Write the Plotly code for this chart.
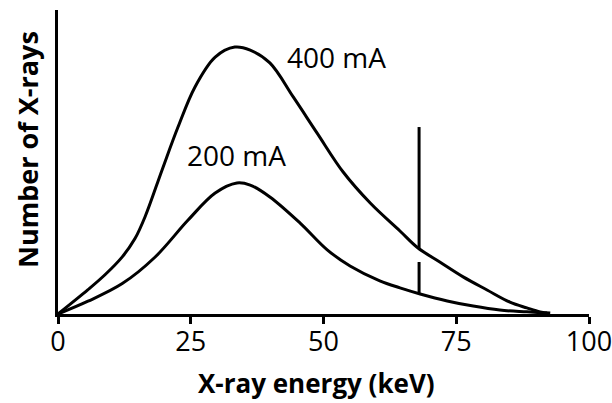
import plotly.graph_objects as go

# X-ray energy (keV) and relative number of X-rays
energy_400 = [0, 5.65, 8.85, 12.1, 14.5, 16.4, 19.6, 22.6, 25.8, 29.6, 33.3, 36.2, 39.9, 44.3, 48.8, 53.7, 58.8, 64.4, 67.8, 71.9, 76.3, 80.8, 85.1, 88.3, 90.8, 92.7]
count_400 = [0, 8.0, 12.9, 18.8, 24.8, 32.0, 47.4, 61.5, 74.7, 84.5, 87.8, 86.8, 82.6, 71.4, 59.5, 46.7, 36.5, 27.3, 21.7, 17.1, 12.2, 7.9, 3.9, 2.0, 0.7, 0.3]

energy_200 = [0, 5.65, 12.1, 18.3, 24.5, 29.6, 33.7, 36.2, 39.9, 45.6, 50.7, 55.0, 60.6, 64.4, 68.2, 73.3, 78.2, 83.2, 88.3, 92.1]
count_200 = [0, 4.2, 10.0, 18.75, 30.9, 39.8, 43.1, 42.4, 38.5, 29.9, 21.1, 15.8, 10.9, 8.6, 6.6, 4.3, 2.6, 1.3, 0.7, 0.3]

# characteristic spike
spike_energy = [68, 68]
spike_400 = [21.7, 61.5]
spike_200 = [6.6, 17.1]

x_ticks = [0, 25, 50, 75, 100]
x_tick_labels = ["0", "25", "50", "75", "100"]

labels = ["400 mA", "200 mA"]
label_x = [52.4, 33.7]
label_y = [84.5, 52.3]

line = dict(color="black", width=3)
fig = go.Figure()
fig.add_trace(go.Scatter(x=energy_400, y=count_400, mode="lines", line=dict(shape="spline", smoothing=1.0, **line)))
fig.add_trace(go.Scatter(x=energy_200, y=count_200, mode="lines", line=dict(shape="spline", smoothing=1.0, **line)))
fig.add_trace(go.Scatter(x=spike_energy, y=spike_400, mode="lines", line=line))
fig.add_trace(go.Scatter(x=spike_energy, y=spike_200, mode="lines", line=line))

for t, x, y in zip(labels, label_x, label_y):
    fig.add_annotation(x=x, y=y, text=t, showarrow=False,
                       font=dict(family="Open Sans", size=28, color="black"))

# axis titles
fig.add_annotation(xref="paper", yref="paper", x=0.486, y=-0.227, xanchor="center", yanchor="middle",
                   text="<b>X-ray energy (keV)</b>",
                   showarrow=False, font=dict(family="Open Sans", size=26, color="black"))
fig.add_annotation(xref="paper", yref="paper", x=-0.0565, y=0.543, xanchor="center", yanchor="middle",
                   text="<b>Number of X-rays</b>",
                   textangle=-90, showarrow=False, font=dict(family="Open Sans", size=27, color="black"))

fig.update_layout(
    width=612, height=403,
    margin=dict(l=58, r=23, t=10, b=89),
    paper_bgcolor="white", plot_bgcolor="white",
    showlegend=False,
    font=dict(family="Open Sans", color="black"),
)
fig.update_xaxes(
    range=[0, 100], tickvals=x_ticks, ticktext=x_tick_labels, automargin=False,
    showline=True, linecolor="black", linewidth=3, showgrid=False, zeroline=False,
    ticks="outside", ticklen=7, tickwidth=3, tickcolor="black",
    ticklabeloverflow="allow", ticklabelstandoff=-5,
    tickfont=dict(family="Open Sans", size=27, color="black"),
)
fig.update_yaxes(
    range=[0, 100], showticklabels=False, ticks="", automargin=False,
    showline=True, linecolor="black", linewidth=3, showgrid=False, zeroline=False,
)

fig.write_html("out.html")
